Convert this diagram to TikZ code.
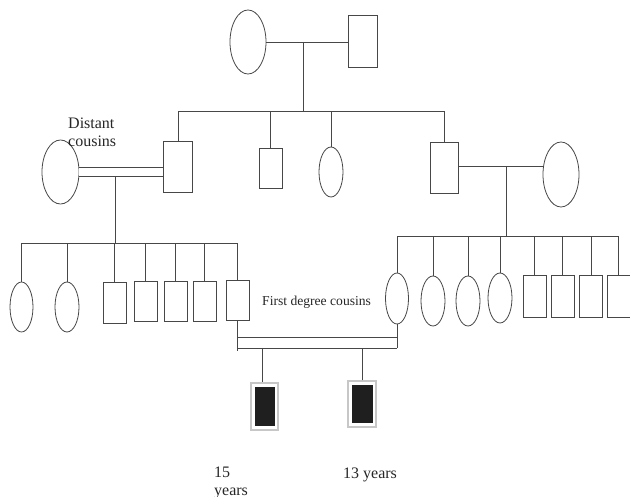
\documentclass[tikz,border=0pt]{standalone}
\usepackage{fontspec}
\setmainfont{Liberation Serif}
\usepackage{tikz}
\usetikzlibrary{shapes.geometric}
\tikzset{
    line-grey/.style = {draw=black!72, line width=0.8pt},
    male-box/.style = {line-grey, rectangle, fill=white, inner sep=0pt, minimum width=23pt, minimum height=40pt},
    female-oval/.style = {line-grey, ellipse, fill=white, inner sep=0pt, minimum width=24pt, minimum height=50pt},
    affected-box/.style = {draw=black!22, line width=1.2pt, fill=white, rectangle, inner sep=0pt, minimum width=27pt, minimum height=46pt,
        path picture={\fill[black!88] ([shift={(3.5pt,-4pt)}]path picture bounding box.north west) rectangle ([shift={(-3.5pt,4pt)}]path picture bounding box.south east);}},
    consang/.style = {line-grey, double=white, double distance=#1},
    label-text/.style = {inner sep=0pt, text=black!85, font=\fontsize{16}{18}\selectfont},
}

\begin{document}
\begin{tikzpicture}[x=1pt, y=-1pt]
\useasboundingbox (0,0) rectangle (630,497);
% first generation
\node[female-oval, minimum width=36pt, minimum height=64pt] (gm) at (248,42) {};
\node[male-box, minimum width=29pt, minimum height=52pt] (gf) at (362.5,41) {};
\coordinate (top-marr) at (303,42);
\coordinate (bar1) at (303,111);
\draw[line-grey] (gm.east) -- (gf.west |- gm.east);
\draw[line-grey] (top-marr) -- (bar1);

% second generation
\node[male-box, minimum width=29pt, minimum height=51pt] (m1) at (178,166.5) {};
\node[male-box] (m2) at (270.5,168) {};
\node[female-oval] (f2) at (331,172) {};
\node[male-box, minimum width=28pt, minimum height=51pt] (m3) at (444,167.5) {};
\draw[line-grey] (m1.north |- bar1) -- (m3.north |- bar1);
\foreach \n in {m1,m2,f2,m3}
    \draw[line-grey] (\n.north) -- (\n.north |- bar1);

\node[female-oval, minimum width=37pt, minimum height=64pt] (sp1) at (60.5,172) {};
\node[female-oval, minimum width=36pt, minimum height=65pt] (sp2) at (561,174.5) {};
\node[label-text, anchor=base west, align=left] (distant) at (68,147) {Distant\\cousins};
\draw[consang=8.2pt] (sp1.east) -- (m1.west |- sp1.east);
\coordinate (left-marr) at (115,176.5);
\coordinate (bar2l) at (115,243);
\draw[line-grey] (left-marr) -- (bar2l);
\coordinate (right-marr) at (506,166);
\coordinate (bar2r) at (506,236);
\draw[line-grey] (m3.east |- right-marr) -- (sp2.west |- right-marr);
\draw[line-grey] (right-marr) -- (bar2r);

% third generation, left family
\node[female-oval, minimum width=23pt] (c1) at (21.5,307) {};
\node[female-oval] (c2) at (67,307) {};
\node[male-box, minimum height=41pt] (c3) at (114.5,302.5) {};
\node[male-box] (c4) at (145.5,301) {};
\node[male-box] (c5) at (175.5,301) {};
\node[male-box] (c6) at (204.5,301) {};
\node[male-box] (c7) at (237.5,300.5) {};
\draw[line-grey] (c1.north |- bar2l) -- (c7.north |- bar2l);
\foreach \n in {c1,c2,c3,c4,c5,c6,c7}
    \draw[line-grey] (\n.north) -- (\n.north |- bar2l);

% third generation, right family
\node[female-oval, minimum width=23pt, minimum height=51pt] (d1) at (397,298.5) {};
\node[female-oval] (d2) at (433,301) {};
\node[female-oval] (d3) at (468,301) {};
\node[female-oval] (d4) at (500,298) {};
\node[male-box, minimum height=42pt] (d5) at (534.5,296) {};
\node[male-box, minimum height=42pt] (d6) at (562.5,296) {};
\node[male-box, minimum height=42pt] (d7) at (591,296) {};
\node[male-box, minimum height=42pt] (d8) at (618.5,296) {};
\draw[line-grey] (d1.north |- bar2r) -- (d8.north |- bar2r);
\foreach \n in {d1,d2,d3,d4,d5,d6,d7,d8}
    \draw[line-grey] (\n.north) -- (\n.north |- bar2r);

\node[label-text, anchor=base west, font=\fontsize{13.6}{16}\selectfont] (first) at (262,306) {First degree cousins};

% consanguineous marriage and the two affected children
\coordinate (cousin-up) at (300,337);
\coordinate (cousin-low) at (300,348);
\coordinate (cousin-end) at (300,351);
\draw[line-grey] (c7.south |- cousin-up) -- (d1.south |- cousin-up);
\draw[line-grey] (c7.south |- cousin-low) -- (d1.south |- cousin-low);
\draw[line-grey] (c7.south) -- (c7.south |- cousin-end);
\draw[line-grey] (d1.south) -- (d1.south |- cousin-low);

\node[affected-box, minimum height=47pt] (a1) at (264.5,406.5) {};
\node[affected-box, minimum width=28pt] (a2) at (362,404) {};
\coordinate (kid1) at (262,348);
\draw[line-grey] (kid1) -- (kid1 |- a1.north);
\draw[line-grey] (a2.north) -- (a2.north |- cousin-low);

\node[label-text, anchor=base west, align=left] (age1) at (214,495) {15\\years};
\node[label-text, anchor=base west] (age2) at (343,478) {13 years};
\end{tikzpicture}
\end{document}
